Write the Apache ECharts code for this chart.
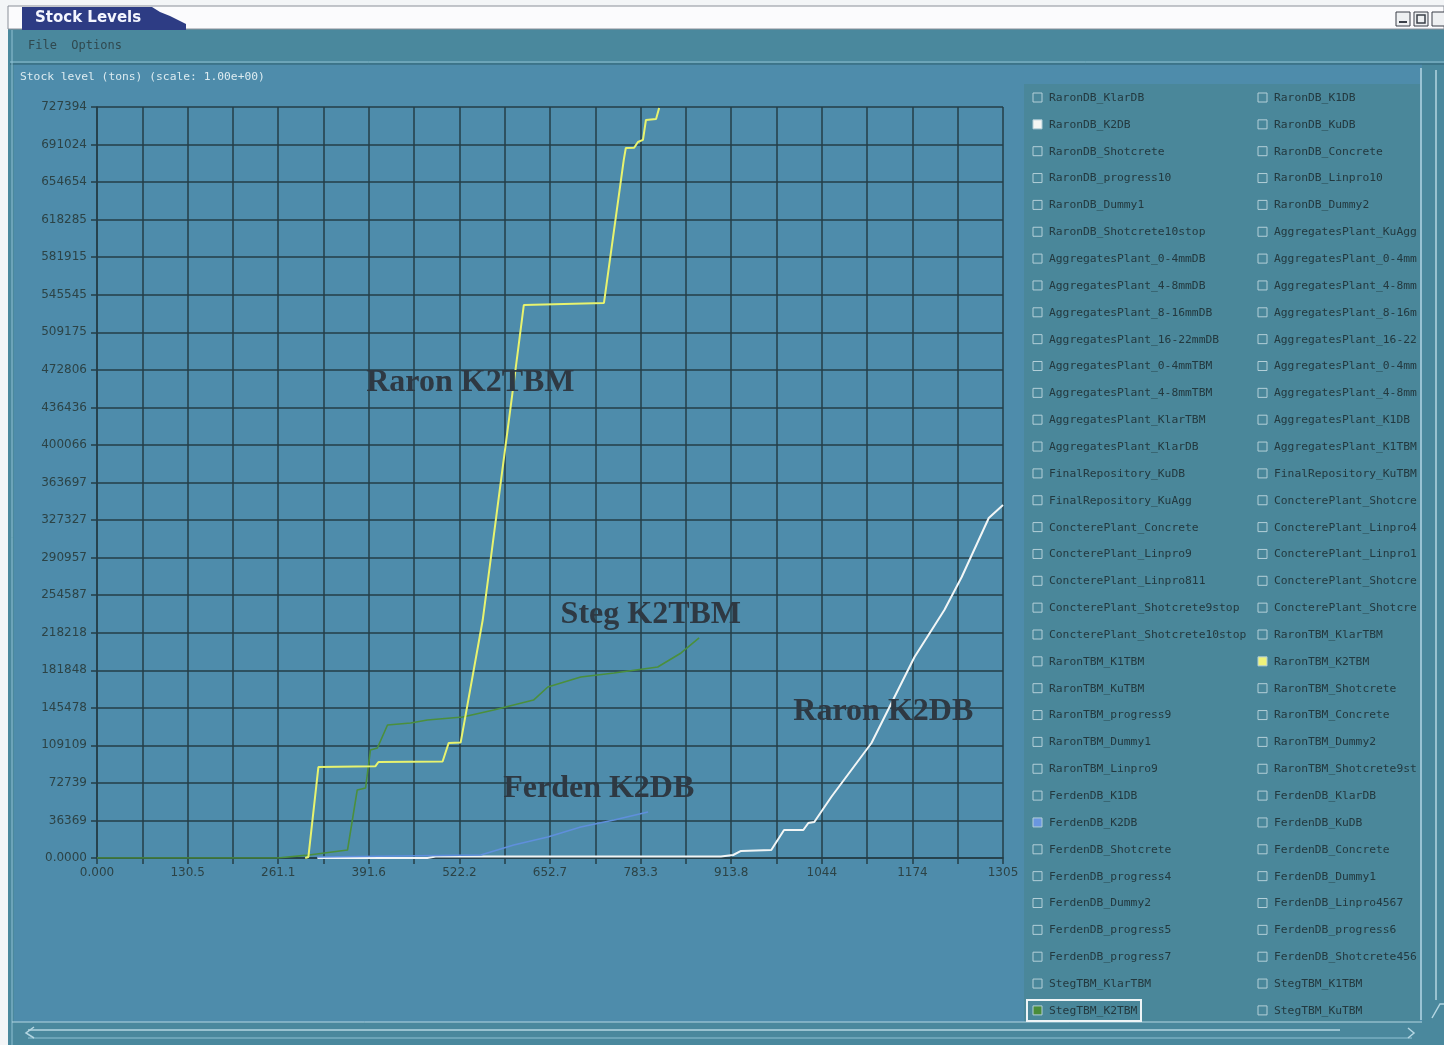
<!DOCTYPE html>
<html>
<head>
<meta charset="utf-8">
<title>Stock Levels</title>
<script src="https://cdn.jsdelivr.net/npm/echarts@6/dist/echarts.min.js"></script>
<style>
  html, body { margin: 0; padding: 0; background: #f3f5f7; }
  #stock_chart { width: 1444px; height: 1045px; }
</style>
</head>
<body>
<div id="stock_chart"></div>
<script>
// axis ranges
var xMax = 1305.5;
var yMax = 727394;
var xTickLabels = ['0.000', '130.5', '261.1', '391.6', '522.2', '652.7', '783.3', '913.8', '1044', '1174', '1305'];
var yTickLabels = ['0.0000', '36369', '72739', '109109', '145478', '181848', '218218', '254587', '290957', '327327',
    '363697', '400066', '436436', '472806', '509175', '545545', '581915', '618285', '654654', '691024', '727394'];

// stock level series [time, tons]
var raronK2TBM = [[300, 0], [304.6, 1000], [319, 88100], [401, 88800], [405.6, 93000], [498, 93500], [506.7, 111400],
    [524, 111800], [555.8, 230500], [603, 472700], [615, 535600], [730.5, 537600], [759, 676000], [762, 687700],
    [774, 687900], [779.5, 693500], [786.7, 695500], [791, 714800], [805.6, 715700], [810, 726400]];
var stegK2TBM = [[0, 0], [260, 0], [300, 2500], [361, 7750], [375, 65900], [387, 67800], [394, 104600], [404, 106500],
    [418.6, 128800], [452, 130800], [476, 133700], [527, 136600], [571.7, 143400], [629, 153000], [649.6, 165600],
    [697, 175300], [745, 179200], [808, 185000], [841.6, 198600], [867.6, 213100]];
var ferdenK2DB = [[317.6, 970], [553, 2900], [600.5, 12600], [649.6, 20300], [697, 30000], [745, 36800], [794, 44600]];
var raronK2DB = [[317.6, 0], [476, 0], [488, 1500], [899, 1500], [916.7, 2900], [928, 6800], [971.6, 7750], [990, 27100],
    [1017.8, 27100], [1025, 33900], [1033.6, 34900], [1058, 59100], [1116, 111400], [1178, 194700], [1221, 240200],
    [1246, 272200], [1285, 329300], [1305.5, 341900]];

// hand written notes on the plot: [x, y, text]
var notes = [[538, 460000, 'Raron K2TBM'], [798, 235400, 'Steg K2TBM'], [1133, 141400, 'Raron K2DB'], [723, 66800, 'Ferden K2DB']];

// check box list
var leftNames = ['RaronDB_KlarDB', 'RaronDB_K2DB', 'RaronDB_Shotcrete', 'RaronDB_progress10', 'RaronDB_Dummy1',
    'RaronDB_Shotcrete10stop', 'AggregatesPlant_0-4mmDB', 'AggregatesPlant_4-8mmDB', 'AggregatesPlant_8-16mmDB',
    'AggregatesPlant_16-22mmDB', 'AggregatesPlant_0-4mmTBM', 'AggregatesPlant_4-8mmTBM', 'AggregatesPlant_KlarTBM',
    'AggregatesPlant_KlarDB', 'FinalRepository_KuDB', 'FinalRepository_KuAgg', 'ConcterePlant_Concrete',
    'ConcterePlant_Linpro9', 'ConcterePlant_Linpro811', 'ConcterePlant_Shotcrete9stop', 'ConcterePlant_Shotcrete10stop',
    'RaronTBM_K1TBM', 'RaronTBM_KuTBM', 'RaronTBM_progress9', 'RaronTBM_Dummy1', 'RaronTBM_Linpro9', 'FerdenDB_K1DB',
    'FerdenDB_K2DB', 'FerdenDB_Shotcrete', 'FerdenDB_progress4', 'FerdenDB_Dummy2', 'FerdenDB_progress5',
    'FerdenDB_progress7', 'StegTBM_KlarTBM', 'StegTBM_K2TBM'];
var rightNames = ['RaronDB_K1DB', 'RaronDB_KuDB', 'RaronDB_Concrete', 'RaronDB_Linpro10', 'RaronDB_Dummy2',
    'AggregatesPlant_KuAgg', 'AggregatesPlant_0-4mmDB2', 'AggregatesPlant_4-8mmDB2', 'AggregatesPlant_8-16mmDB2',
    'AggregatesPlant_16-22mmDB2', 'AggregatesPlant_0-4mmTBM2', 'AggregatesPlant_4-8mmTBM2', 'AggregatesPlant_K1DB',
    'AggregatesPlant_K1TBM', 'FinalRepository_KuTBM', 'ConcterePlant_Shotcrete', 'ConcterePlant_Linpro4567',
    'ConcterePlant_Linpro10', 'ConcterePlant_Shotcrete10', 'ConcterePlant_Shotcrete4567', 'RaronTBM_KlarTBM',
    'RaronTBM_K2TBM', 'RaronTBM_Shotcrete', 'RaronTBM_Concrete', 'RaronTBM_Dummy2', 'RaronTBM_Shotcrete9stop',
    'FerdenDB_KlarDB', 'FerdenDB_KuDB', 'FerdenDB_Concrete', 'FerdenDB_Dummy1', 'FerdenDB_Linpro4567',
    'FerdenDB_progress6', 'FerdenDB_Shotcrete4567', 'StegTBM_K1TBM', 'StegTBM_KuTBM'];
var checked = { 'RaronDB_K2DB': '#f4f6f4', 'RaronTBM_K2TBM': '#eef27a', 'FerdenDB_K2DB': '#6a96e0', 'StegTBM_K2TBM': '#4a8c3a' };

var myChart = echarts.init(document.getElementById('stock_chart'));

var gridCol = '#253e47';
var labelCol = '#2c4346';
var monoFont = '"DejaVu Sans Mono", monospace';

function boxList(names, x0, textWidth) {
    var items = [];
    names.forEach(function (n, i) {
        var y = 98 + i * 26.85;
        items.push({
            type: 'rect', shape: { x: x0, y: y - 5, width: 9, height: 9 },
            style: { fill: checked[n] || 'none', stroke: '#b3cfd8', lineWidth: 1 }
        });
        items.push({
            type: 'text', x: x0 + 16, y: y,
            style: {
                text: n, fill: '#23393f', font: '11.3px ' + monoFont, verticalAlign: 'middle',
                width: textWidth, overflow: 'truncate', ellipsis: ''
            }
        });
    });
    return items;
}

var chrome = [
    // window frame and panels
    { type: 'rect', z: -10, shape: { x: 8, y: 28, width: 1436, height: 1017 }, style: { fill: '#4a889d' } },
    { type: 'rect', z: -10, shape: { x: 8, y: 6, width: 1436, height: 23 }, style: { fill: '#fbfbfd', stroke: '#8a8f98', lineWidth: 1 } },
    { type: 'rect', z: -9, shape: { x: 14, y: 64, width: 1408, height: 958 }, style: { fill: '#4e8cab' } },
    { type: 'rect', z: -8, shape: { x: 1024, y: 84, width: 396, height: 938 }, style: { fill: '#4a879a' } },
    { type: 'line', z: -7, shape: { x1: 10, y1: 62, x2: 1444, y2: 62 }, style: { stroke: '#8fc1d3', lineWidth: 1 } },
    { type: 'line', z: -7, shape: { x1: 10, y1: 64, x2: 1444, y2: 64 }, style: { stroke: '#2f6173', lineWidth: 1 } },
    { type: 'line', z: -7, shape: { x1: 12, y1: 30, x2: 12, y2: 1045 }, style: { stroke: '#8fc1d3', lineWidth: 1 } },
    { type: 'line', z: -7, shape: { x1: 1421, y1: 68, x2: 1421, y2: 1020 }, style: { stroke: '#b4d6e2', lineWidth: 1.5 } },
    { type: 'line', z: -7, shape: { x1: 1436, y1: 70, x2: 1436, y2: 1000 }, style: { stroke: '#b4d6e2', lineWidth: 1.5 } },
    { type: 'polyline', z: -7, shape: { points: [[1432, 1018], [1440, 1004], [1444, 1004]] }, style: { stroke: '#b4d6e2', lineWidth: 1.5, fill: 'none' } },
    { type: 'line', z: -7, shape: { x1: 12, y1: 1022, x2: 1422, y2: 1022 }, style: { stroke: '#b4d6e2', lineWidth: 1 } },
    { type: 'line', z: -7, shape: { x1: 28, y1: 1030, x2: 1340, y2: 1030 }, style: { stroke: '#b4d6e2', lineWidth: 1.5 } },
    { type: 'line', z: -7, shape: { x1: 28, y1: 1038, x2: 1412, y2: 1038 }, style: { stroke: '#8fc1d3', lineWidth: 1 } },
    { type: 'polyline', z: -7, shape: { points: [[34, 1027], [26, 1033], [34, 1038]] }, style: { stroke: '#b4d6e2', lineWidth: 1.5, fill: 'none' } },
    { type: 'polyline', z: -7, shape: { points: [[1408, 1028], [1414, 1033], [1408, 1038]] }, style: { stroke: '#b4d6e2', lineWidth: 1.5, fill: 'none' } },
    // title tab
    { type: 'polygon', z: -6, shape: { points: [[22, 7], [152, 7], [160, 12], [170, 16], [178, 20], [186, 24], [186, 30], [22, 30]] }, style: { fill: '#2d3c84' } },
    { type: 'text', z: -5, x: 35, y: 18, style: { text: 'Stock Levels', fill: '#f4f6ff', font: '600 15px "DejaVu Sans", sans-serif', verticalAlign: 'middle' } },
    // window buttons
    { type: 'rect', z: -6, shape: { x: 1396, y: 12, width: 14, height: 14 }, style: { fill: '#eef0f2', stroke: '#3a3f48', lineWidth: 1 } },
    { type: 'rect', z: -6, shape: { x: 1414, y: 12, width: 14, height: 14 }, style: { fill: '#eef0f2', stroke: '#3a3f48', lineWidth: 1 } },
    { type: 'rect', z: -6, shape: { x: 1432, y: 12, width: 14, height: 14 }, style: { fill: '#eef0f2', stroke: '#3a3f48', lineWidth: 1 } },
    { type: 'line', z: -5, shape: { x1: 1399, y1: 22, x2: 1407, y2: 22 }, style: { stroke: '#3a3f48', lineWidth: 2 } },
    { type: 'rect', z: -5, shape: { x: 1417, y: 15, width: 8, height: 8 }, style: { fill: 'none', stroke: '#3a3f48', lineWidth: 1.5 } },
    // menu and chart caption
    { type: 'text', z: -5, x: 28, y: 46, style: { text: 'File  Options', fill: '#30494f', font: '12px ' + monoFont, verticalAlign: 'middle' } },
    { type: 'text', z: -5, x: 20, y: 77, style: { text: 'Stock level (tons) (scale: 1.00e+00)', fill: '#dcebf0', font: '11.3px ' + monoFont, verticalAlign: 'middle' } },
    // focus frame on the last check box
    { type: 'rect', z: -4, shape: { x: 1027, y: 1000, width: 114, height: 21 }, style: { fill: 'none', stroke: '#eef4f6', lineWidth: 2 } }
];

var graphics = chrome.concat(boxList(leftNames, 1033, 200), boxList(rightNames, 1258, 144));

function lineSeries(name, data, color, width) {
    return {
        name: name,
        type: 'line',
        data: data,
        showSymbol: false,
        animation: false,
        lineStyle: { color: color, width: width },
        z: 3
    };
}

var series = [
    lineSeries('Steg K2TBM', stegK2TBM, '#4b8f3c', 1.6),
    lineSeries('Raron K2TBM', raronK2TBM, '#e8f36e', 2),
    lineSeries('Raron K2DB', raronK2DB, '#f2f6f6', 2),
    lineSeries('Ferden K2DB', ferdenK2DB, '#5f8fdc', 1.6)
];

// notes as mark points on a helper series
series.push({
    type: 'scatter',
    data: [],
    animation: false,
    markPoint: {
        symbol: 'rect',
        symbolSize: 1,
        itemStyle: { color: 'rgba(0,0,0,0)' },
        label: {
            show: true,
            position: 'inside',
            formatter: '{b}',
            color: '#2e3943',
            fontFamily: '"Liberation Serif", "DejaVu Serif", serif',
            fontWeight: 'bold',
            fontSize: 32
        },
        data: notes.map(function (n) { return { name: n[2], coord: [n[0], n[1]] }; })
    }
});

var option = {
    backgroundColor: 'transparent',
    animation: false,
    grid: { left: 97, right: 441, top: 107, bottom: 187 },
    xAxis: {
        type: 'value',
        min: 0,
        max: xMax,
        interval: xMax / 20,
        axisLine: { lineStyle: { color: gridCol, width: 1.5 } },
        axisTick: { show: true, length: 6, lineStyle: { color: gridCol, width: 1.5 } },
        splitLine: { show: true, lineStyle: { color: gridCol, width: 1.5 } },
        axisLabel: {
            color: labelCol,
            fontSize: 12,
            fontFamily: '"DejaVu Sans", sans-serif',
            margin: 9,
            showMinLabel: true,
            showMaxLabel: true,
            formatter: function (v) {
                var i = Math.round(v / (xMax / 20));
                return i % 2 === 0 ? xTickLabels[i / 2] : '';
            }
        }
    },
    yAxis: {
        type: 'value',
        min: 0,
        max: yMax,
        interval: yMax / 20,
        axisLine: { show: true, lineStyle: { color: gridCol, width: 1.5 } },
        axisTick: { show: true, length: 6, lineStyle: { color: gridCol, width: 1.5 } },
        splitLine: { show: true, lineStyle: { color: gridCol, width: 1.5 } },
        axisLabel: {
            color: labelCol,
            fontSize: 12,
            fontFamily: '"DejaVu Sans", sans-serif',
            margin: 10,
            showMinLabel: true,
            showMaxLabel: true,
            formatter: function (v) {
                return yTickLabels[Math.round(v / (yMax / 20))];
            }
        }
    },
    graphic: graphics,
    series: series
};

myChart.setOption(option, true);
</script>
</body>
</html>
